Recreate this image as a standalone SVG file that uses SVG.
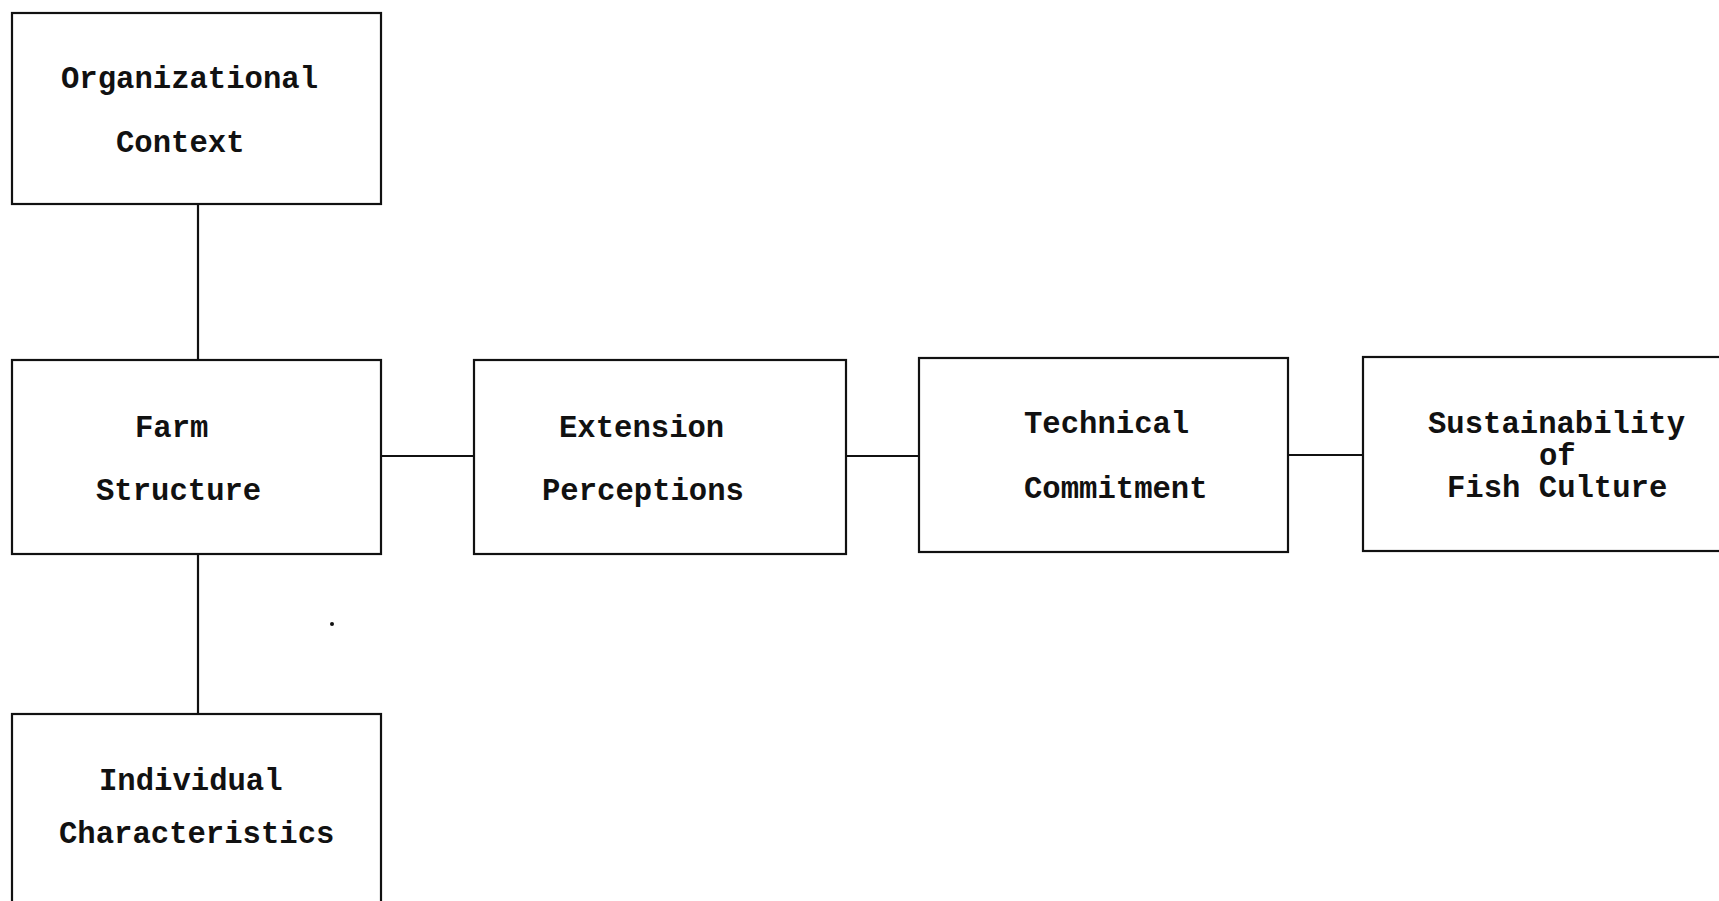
<svg xmlns="http://www.w3.org/2000/svg" width="1719" height="901" viewBox="0 0 1719 901">
<style>
  .box { fill: #ffffff; stroke: #111; stroke-width: 2.2; }
  .lbl { font-family: "Liberation Mono", "Courier New", monospace; font-size: 30.6px; font-weight: bold; fill: #111; }
  .conn line { stroke: #111; stroke-width: 2.2; }
</style>
<rect width="1719" height="901" fill="#ffffff"/>
<g id="connectors" class="conn">
  <line x1="198" y1="204" x2="198" y2="360"/>
  <line x1="198" y1="554" x2="198" y2="714"/>
  <line x1="381" y1="456" x2="474" y2="456"/>
  <line x1="846" y1="456" x2="919" y2="456"/>
  <line x1="1288" y1="455" x2="1363" y2="455"/>
</g>
<g id="organizational-context">
  <rect class="box" x="12" y="13" width="369" height="191"/>
  <text class="lbl" x="61" y="88">Organizational</text>
  <text class="lbl" x="116" y="152">Context</text>
</g>
<g id="farm-structure">
  <rect class="box" x="12" y="360" width="369" height="194"/>
  <text class="lbl" x="135" y="437">Farm</text>
  <text class="lbl" x="96" y="500">Structure</text>
</g>
<g id="extension-perceptions">
  <rect class="box" x="474" y="360" width="372" height="194"/>
  <text class="lbl" x="559" y="437">Extension</text>
  <text class="lbl" x="542" y="500">Perceptions</text>
</g>
<g id="technical-commitment">
  <rect class="box" x="919" y="358" width="369" height="194"/>
  <text class="lbl" x="1024" y="433">Technical</text>
  <text class="lbl" x="1024" y="498">Commitment</text>
</g>
<g id="sustainability">
  <rect class="box" x="1363" y="357" width="380" height="194"/>
  <text class="lbl" x="1428" y="433">Sustainability</text>
  <text class="lbl" x="1539" y="465">of</text>
  <text class="lbl" x="1447" y="497">Fish Culture</text>
</g>
<g id="individual-characteristics">
  <rect class="box" x="12" y="714" width="369" height="210"/>
  <text class="lbl" x="99" y="790">Individual</text>
  <text class="lbl" x="59" y="843">Characteristics</text>
</g>
<circle cx="332" cy="624" r="2" fill="#111"/>
</svg>
